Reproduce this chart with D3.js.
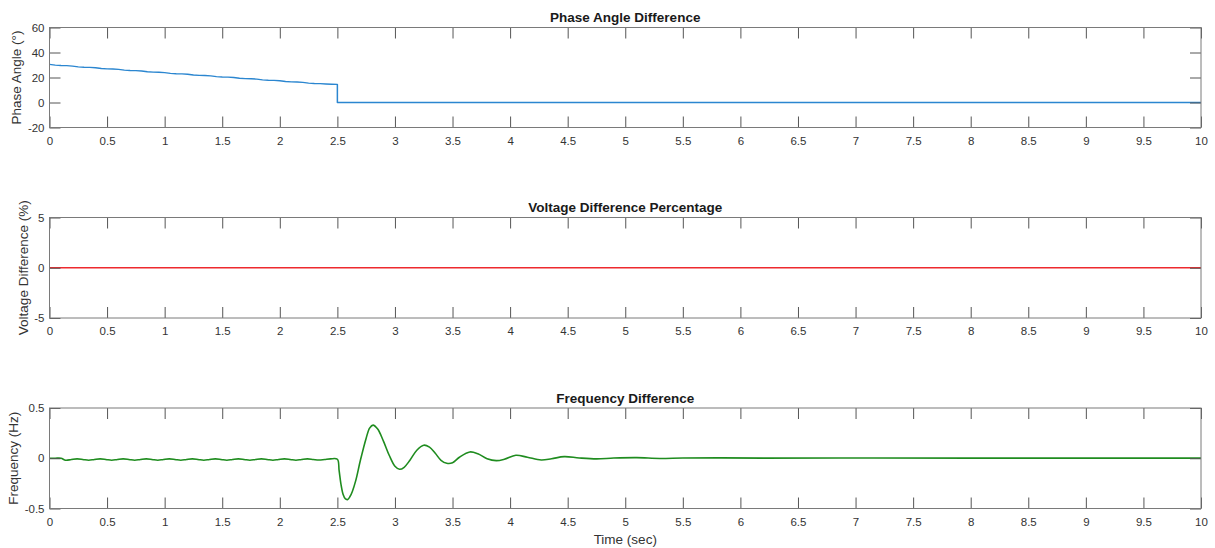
<!DOCTYPE html>
<html><head><meta charset="utf-8">
<script src="https://cdn.jsdelivr.net/npm/d3@7"></script>
<style>
body{margin:0;background:#fff;}
svg{display:block;font-family:"Liberation Sans",Arial,sans-serif;}
</style></head>
<body><svg id="c" width="1215" height="548"></svg>
<script>
// ---- data ----
const xTicks = [0,0.5,1,1.5,2,2.5,3,3.5,4,4.5,5,5.5,6,6.5,7,7.5,8,8.5,9,9.5,10];

const phaseTime = [0,0.05,0.1,0.15,0.2,0.25,0.3,0.35,0.4,0.45,0.5,0.55,0.6,0.65,0.7,0.75,0.8,0.85,0.9,0.95,1.0,1.05,1.1,1.15,1.2,1.25,1.3,1.35,1.4,1.45,1.5,1.55,1.6,1.65,1.7,1.75,1.8,1.85,1.9,1.95,2.0,2.05,2.1,2.15,2.2,2.25,2.3,2.35,2.4,2.45,2.5,2.5,10];
const phaseValue = [30.5,29.9,29.6,29.5,29.1,28.5,28.2,28.1,27.8,27.2,26.9,26.8,26.5,25.9,25.6,25.5,25.2,24.6,24.3,24.2,23.9,23.3,23.0,22.9,22.6,22.0,21.7,21.6,21.3,20.7,20.4,20.3,20.0,19.4,19.1,19.0,18.7,18.1,17.8,17.7,17.4,16.8,16.5,16.4,16.1,15.5,15.2,15.1,14.8,14.6,14.5,0,0];
const phaseTicks = [-20,0,20,40,60];

const voltTime = [0,2.5,10];
const voltValue = [0,0,0];
const voltTicks = [-5,0,5];

const freqTime = [0,0.05,0.1,0.14,0.19,0.24,0.29,0.34,0.39,0.44,0.49,0.54,0.59,0.64,0.69,0.74,0.79,0.84,0.89,0.94,0.99,1.04,1.09,1.14,1.19,1.24,1.29,1.34,1.39,1.44,1.49,1.54,1.59,1.64,1.69,1.74,1.79,1.84,1.89,1.94,1.99,2.04,2.09,2.14,2.19,2.24,2.29,2.34,2.39,2.44,2.5,
  2.515,2.53,2.55,2.57,2.59,2.61,2.63,2.66,2.70,2.75,2.78,2.81,2.85,2.90,2.95,3.00,3.04,3.08,3.13,3.19,3.25,3.30,3.35,3.40,3.45,3.50,3.56,3.65,3.72,3.80,3.88,3.95,4.05,4.15,4.27,4.36,4.47,4.6,4.75,4.9,5.1,5.3,5.5,5.8,6.2,7,8,10];
const freqValue = [0,0,0,-0.02,-0.012,-0.006,-0.012,-0.02,-0.012,-0.006,-0.012,-0.02,-0.012,-0.006,-0.012,-0.02,-0.012,-0.006,-0.012,-0.02,-0.012,-0.006,-0.012,-0.02,-0.012,-0.006,-0.012,-0.02,-0.012,-0.006,-0.012,-0.02,-0.012,-0.006,-0.012,-0.02,-0.012,-0.006,-0.012,-0.02,-0.012,-0.006,-0.012,-0.02,-0.012,-0.006,-0.012,-0.018,-0.012,-0.006,-0.01,
  -0.12,-0.25,-0.36,-0.405,-0.41,-0.38,-0.33,-0.22,-0.02,0.20,0.30,0.33,0.29,0.17,0.03,-0.08,-0.11,-0.09,-0.02,0.08,0.13,0.11,0.05,-0.02,-0.05,-0.045,0.01,0.063,0.045,-0.005,-0.024,-0.01,0.03,0.01,-0.017,-0.005,0.016,0.003,-0.006,0.002,0.006,-0.002,0.003,0.004,0.001,0.002,0.001,0.001];
const freqTicks = [-0.5,0,0.5];

// ---- layout ----
const svg = d3.select("#c");
const left = 49.5, right = 1201;
const x = d3.scaleLinear().domain([0,10]).range([left,right]);
const panels = [
  {title:"Phase Angle Difference", ylabel:"Phase Angle (°)", top:27.5, bottom:127.5, dom:[-20,60], ticks:phaseTicks, t:phaseTime, v:phaseValue, color:"#2b86d0", curve:d3.curveLinear, labX:16.5, lw:1.5},
  {title:"Voltage Difference Percentage", ylabel:"Voltage Difference (%)", top:217.5, bottom:318, dom:[-5,5], ticks:voltTicks, t:voltTime, v:voltValue, color:"#ee2a2e", curve:d3.curveLinear, labX:23.5, lw:1.5},
  {title:"Frequency Difference", ylabel:"Frequency (Hz)", top:408, bottom:508.5, dom:[-0.5,0.5], ticks:freqTicks, t:freqTime, v:freqValue, color:"#1f8c1f", curve:d3.curveCatmullRom.alpha(0.5), labX:13.5, lw:1.6}
];
const axisCol = "#7a7a7a", textCol = "#333";
const tickLen = 11;

panels.forEach((p,i)=>{
  const y = d3.scaleLinear().domain(p.dom).range([p.bottom,p.top]);
  const g = svg.append("g");
  const line = d3.line().x((d,j)=>x(p.t[j])).y((d,j)=>y(p.v[j])).curve(p.curve);
  g.append("path").datum(p.v).attr("d",line).attr("fill","none")
    .attr("stroke",p.color).attr("stroke-width",p.lw).attr("stroke-linejoin","round");
  const ax = (a)=>a.tickSizeOuter(0).tickSizeInner(-tickLen).tickPadding(8);
  const xb = g.append("g").attr("transform",`translate(0,${p.bottom})`).call(ax(d3.axisBottom(x).tickValues(xTicks).tickFormat(d=>String(d))));
  const xt = g.append("g").attr("transform",`translate(0,${p.top})`).call(ax(d3.axisTop(x).tickValues(xTicks).tickFormat("")));
  const yl = g.append("g").attr("transform",`translate(${left},0)`).call(ax(d3.axisLeft(y).tickValues(p.ticks).tickFormat(d=>String(d))).tickPadding(5));
  const yr = g.append("g").attr("transform",`translate(${right},0)`).call(ax(d3.axisRight(y).tickValues(p.ticks).tickFormat("")));
  [xb,xt,yl,yr].forEach(a=>{
    a.select(".domain").remove();
    a.selectAll("line").attr("stroke","#555").attr("stroke-width",1);
    a.selectAll("text").attr("fill",textCol).style("font-size","11.5px").style("font-family","'Liberation Sans',Arial,sans-serif");
  });
  xb.selectAll("text").attr("dy","0.71em").attr("y",9);
  g.append("rect").attr("x",left).attr("y",p.top).attr("width",right-left).attr("height",p.bottom-p.top)
    .attr("fill","none").attr("stroke",axisCol).attr("stroke-width",1);
  g.append("text").attr("x",(left+right)/2).attr("y",p.top-5.5).attr("text-anchor","middle")
    .attr("fill","#1a1a1a").style("font-size","13.5px").style("font-weight","bold").text(p.title);
  g.append("text").attr("transform",`translate(${p.labX},${(p.top+p.bottom)/2}) rotate(-90)`)
    .attr("text-anchor","middle").attr("dy","0.35em").attr("fill",textCol).style("font-size","13.5px").text(p.ylabel);
});
svg.append("text").attr("x",(left+right)/2).attr("y",544).attr("text-anchor","middle")
  .attr("fill",textCol).style("font-size","13.5px").text("Time (sec)");
</script></body></html>
